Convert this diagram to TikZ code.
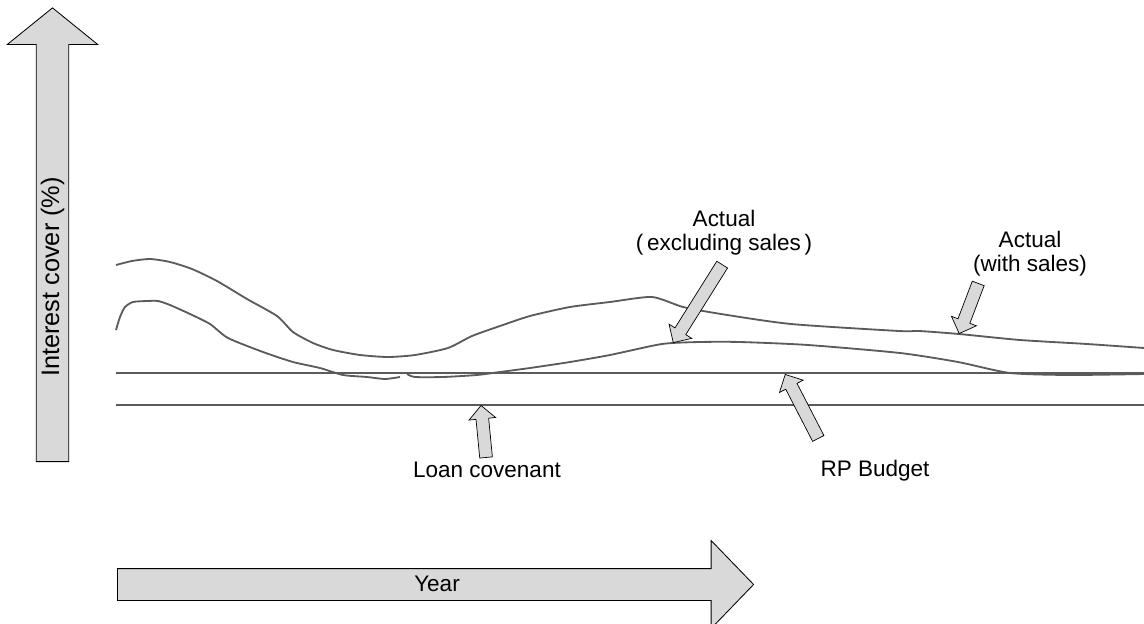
\documentclass[tikz,border=0pt]{standalone}
\usepackage{fontspec}
\setmainfont{Liberation Sans}
\usetikzlibrary{shapes.arrows}
\definecolor{linegray}{RGB}{88,92,92}
\definecolor{arrowgray}{RGB}{217,217,217}

\begin{document}
\begin{tikzpicture}[x=0.025cm, y=-0.025cm,
            curve/.style={draw=linegray, line width=1.3pt, line join=round},
            bigarrow/.style={single arrow, draw=black, fill=arrowgray, line width=0.6pt, inner xsep=0pt, anchor=tail},
            pointer/.style={single arrow, draw=black, fill=arrowgray, line width=0.5pt, inner xsep=0pt, inner ysep=0.15cm, single arrow head extend=0.175cm, anchor=tip},
            lbl/.style={font=\fontsize{16}{17}\selectfont, align=center, inner sep=0pt}]
            \useasboundingbox (0,0) rectangle (1144,624);

            \node[bigarrow, rotate=90, minimum height=11.34cm, inner ysep=0.395cm, single arrow head extend=0.725cm, single arrow tip angle=102] (yaxis) at (52.5,462) {};
            \node[bigarrow, minimum height=15.9cm, inner ysep=0.3875cm, single arrow head extend=0.7cm, single arrow tip angle=92] (xaxis) at (117,584.5) {};
            \node[lbl, rotate=90, font=\fontsize{18}{20}\selectfont] (ylabel) at (52.5,277) {Interest cover (\%)};
            \node[lbl] (xlabel) at (437,584) {Year};

            \draw[curve] (116,373) -- (1144,373);
            \draw[curve] (116,405) -- (1144,405);

            \draw[curve] plot[smooth, tension=0.4] coordinates {(116,265) (132,261) (150,259) (170,262) (192,269) (217,281) (247,299) (277,316) (293,332) (313,343) (333,350) (360,355) (388,357) (415,355) (448,348) (472,336) (500,326) (530,316) (570,307) (610,302) (652,297) (683,307) (721,314) (791,324) (899,331) (919,331) (959,334) (1020,340) (1087,344) (1144,348)};
            \draw[curve] plot[smooth, tension=0.4] coordinates {(116,330) (120,317) (125,307) (133,302) (147,301) (158,301) (170,305) (190,314) (210,324) (228,338) (263,352) (293,362) (320,368) (343,375) (367,377) (385,379) (400,377)};
            \draw[curve] plot[smooth, tension=0.4] coordinates {(407,374) (415,377) (443,377) (477,375) (500,372) (530,368) (570,362) (610,355) (662,344) (700,342) (740,342) (808,345) (900,353) (958,362) (1010,373) (1070,375) (1144,374)};

            \node[lbl] (excl) at (724,233) {Actual\\(\,excluding sales\,)};
            \node[lbl] (withsales) at (1030,254) {Actual\\(with sales)};
            \node[lbl] (loan) at (487,470) {Loan covenant};
            \node[lbl] (budget) at (875,471) {RP Budget};

            \node[pointer, minimum height=2.30cm, rotate=237.9] (exclptr) at (673,343) {};
            \node[pointer, minimum height=1.34cm, rotate=249.2] (withptr) at (959,334) {};
            \node[pointer, minimum height=1.305cm, rotate=95.5] (loanptr) at (481,405) {};
            \node[pointer, minimum height=1.80cm, rotate=117.3] (budgetptr) at (785,374) {};
      \end{tikzpicture}
\end{document}
